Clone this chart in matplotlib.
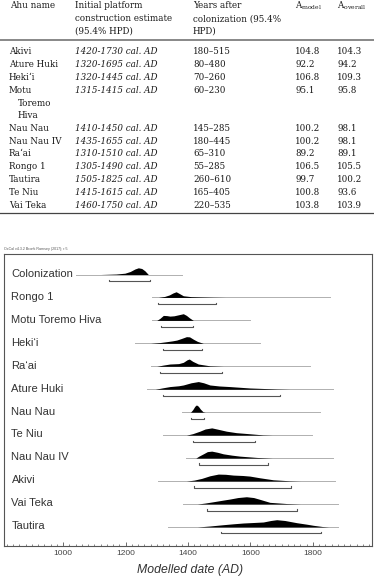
import numpy as np
import matplotlib
matplotlib.use('Agg')
import matplotlib.pyplot as plt

# ---- table data ----
ahu_names = [['Akivi'], ['Ature Huki'], ['Heki\u2018i'], ['Motu', 'Toremo', 'Hiva'],
             ['Nau Nau'], ['Nau Nau IV'], ['Ra\u2018ai'], ['Rongo 1'], ['Tautira'],
             ['Te Niu'], ['Vai Teka']]
hpd_start = [1420, 1320, 1320, 1315, 1410, 1435, 1310, 1305, 1505, 1415, 1460]
hpd_end = [1730, 1695, 1445, 1415, 1450, 1655, 1510, 1490, 1825, 1615, 1750]
years_after = ['180\u2013515', '80\u2013480', '70\u2013260', '60\u2013230', '145\u2013285',
               '180\u2013445', '65\u2013310', '55\u2013285', '260\u2013610', '165\u2013405',
               '220\u2013535']
a_model = [104.8, 92.2, 106.8, 95.1, 100.2, 100.2, 89.2, 106.5, 99.7, 100.8, 103.8]
a_overall = [104.3, 94.2, 109.3, 95.8, 98.1, 98.1, 89.1, 105.5, 100.2, 93.6, 103.9]

# ---- OxCal plot data (top to bottom) ----
plot_labels = ['Colonization', 'Rongo 1', 'Motu Toremo Hiva', 'Heki\u2018i', 'Ra\u2018ai',
               'Ature Huki', 'Nau Nau', 'Te Niu', 'Nau Nau IV', 'Akivi', 'Vai Teka', 'Tautira']
range_start = [1042, 1284, 1284, 1230, 1282, 1268, 1380, 1321, 1393, 1305, 1383, 1337]
range_end = [1381, 1854, 1598, 1630, 1790, 1865, 1822, 1796, 1865, 1870, 1881, 1881]
colon_hpd = (1148, 1278)

dens_years = [
    [1120, 1170, 1198, 1215, 1230, 1241, 1252, 1262, 1273],
    [1305, 1325, 1340, 1352, 1362, 1372, 1385, 1410, 1440, 1480, 1520],
    [1300, 1310, 1321, 1332, 1342, 1355, 1368, 1385, 1395, 1405, 1417],
    [1280, 1310, 1332, 1350, 1364, 1380, 1395, 1405, 1418, 1430, 1449],
    [1300, 1320, 1342, 1370, 1385, 1397, 1404, 1415, 1433, 1470, 1513],
    [1295, 1320, 1342, 1370, 1385, 1410, 1433, 1450, 1470, 1500, 1534, 1598, 1684, 1726],
    [1408, 1415, 1422, 1427, 1433, 1440, 1448, 1455],
    [1395, 1415, 1438, 1455, 1476, 1495, 1523, 1555, 1587, 1640, 1670],
    [1425, 1435, 1449, 1462, 1476, 1495, 1513, 1540, 1566, 1620, 1670],
    [1395, 1420, 1444, 1470, 1497, 1520, 1545, 1575, 1598, 1630, 1673, 1726, 1760],
    [1430, 1455, 1481, 1510, 1534, 1560, 1587, 1610, 1630, 1662, 1716, 1760],
    [1430, 1470, 1513, 1545, 1577, 1610, 1641, 1665, 1684, 1710, 1748, 1780, 1801, 1830, 1850],
]
dens_height = [
    [0, 0.5, 1.3, 3.0, 5.5, 6.7, 6.0, 3.7, 0],
    [0, 1.0, 2.5, 4.5, 5.7, 4.0, 1.7, 0.8, 0.5, 0.2, 0],
    [0, 2.0, 5.0, 4.8, 4.3, 4.6, 5.5, 6.7, 5.0, 2.5, 0],
    [0, 0.8, 1.7, 2.5, 3.3, 5.0, 6.7, 6.5, 4.0, 2.0, 0],
    [0, 1.2, 2.3, 2.7, 4.0, 6.5, 7.3, 5.0, 2.3, 0.5, 0],
    [0, 1.5, 2.7, 3.5, 4.3, 6.5, 7.7, 6.5, 4.3, 3.3, 2.7, 1.3, 0.3, 0],
    [0, 2.5, 6.0, 7.3, 6.0, 3.0, 0.5, 0],
    [0, 1.5, 4.0, 6.2, 7.3, 6.0, 4.0, 2.5, 1.7, 0.3, 0],
    [0, 2.0, 4.3, 6.5, 7.0, 5.8, 4.3, 3.0, 2.0, 0.7, 0],
    [0, 1.0, 2.7, 5.3, 7.0, 6.8, 6.0, 5.6, 5.0, 3.3, 1.3, 0.3, 0],
    [0, 1.0, 2.3, 3.8, 5.0, 6.5, 7.3, 6.5, 4.7, 1.7, 0.5, 0],
    [0, 1.0, 2.3, 3.2, 4.0, 4.5, 5.0, 6.5, 7.3, 6.5, 4.3, 2.8, 1.7, 0.5, 0],
]

W, H = 374, 581
fig = plt.figure(figsize=(W / 100, H / 100), dpi=100)


def fy(y):
    return 1 - y / H


def fx(x):
    return x / W


serif = 'DejaVu Serif'
tcol = '#1a1a1a'
tfs = 6.3
plt.rcParams['mathtext.fontset'] = 'dejavuserif'

# header
hdr = [(10, ['Ahu name']),
       (75, ['Initial platform', 'construction estimate', '(95.4% HPD)']),
       (193, ['Years after', 'colonization (95.4%', 'HPD)'])]
for x, lines in hdr:
    for i, s in enumerate(lines):
        fig.text(fx(x), fy(6 + 12.6 * i), s, family=serif, fontsize=tfs, color=tcol, va='center')
fig.text(fx(295), fy(6), r'A$_{\mathregular{model}}$', family=serif, fontsize=tfs, color=tcol, va='center')
fig.text(fx(337), fy(6), r'A$_{\mathregular{overall}}$', family=serif, fontsize=tfs, color=tcol, va='center')

fig.add_artist(plt.Line2D([0, 1], [fy(40), fy(40)], color='#888888', lw=1.4))
fig.add_artist(plt.Line2D([0, 1], [fy(213), fy(213)], color='#444444', lw=0.9))

line_k = 0
for i, name in enumerate(ahu_names):
    y = 52 + 12.75 * line_k
    fig.text(fx(9), fy(y), name[0], family=serif, fontsize=tfs, color=tcol, va='center')
    for j, extra in enumerate(name[1:]):
        fig.text(fx(18), fy(y + 12.75 * (j + 1)), extra, family=serif, fontsize=tfs, color=tcol, va='center')
    fig.text(fx(75), fy(y), f'{hpd_start[i]}-{hpd_end[i]} cal. AD', family=serif, style='italic',
             fontsize=tfs, color=tcol, va='center')
    fig.text(fx(193), fy(y), years_after[i], family=serif, fontsize=tfs, color=tcol, va='center')
    fig.text(fx(295), fy(y), f'{a_model[i]:.1f}', family=serif, fontsize=tfs, color=tcol, va='center')
    fig.text(fx(337), fy(y), f'{a_overall[i]:.1f}', family=serif, fontsize=tfs, color=tcol, va='center')
    line_k += len(name)

# ---- OxCal plot ----
sans = 'Liberation Sans'
ax = fig.add_axes([fx(4), fy(546), fx(368), (546 - 254) / H])
ax.set_xlim(811, 1989)
row_px = 22.95
ax.set_ylim(11 + 19 / row_px, -20.5 / row_px)
hscale = 1 / row_px  # px -> row units

# map table rows to plot rows for HPD brackets
tbl_key = [' '.join(n) for n in ahu_names]
for r, lab in enumerate(plot_labels):
    ax.text(835, r - 0.03, lab, family=sans, fontsize=8, color='#333333', va='center', ha='left')
    ax.plot([range_start[r], range_end[r]], [r, r], color='#b0b0b0', lw=0.7, zorder=1)
    yrs = np.array(dens_years[r])
    hs = np.array(dens_height[r]) * hscale
    ax.fill_between(yrs, r, r - hs, color='black', lw=0, zorder=2)
    if lab == 'Colonization':
        a, b = colon_hpd
    else:
        k = tbl_key.index(lab)
        a, b = hpd_start[k], hpd_end[k]
    yb = r + 6.5 * hscale
    ax.plot([a, a, b, b], [yb - 0.05, yb, yb, yb - 0.05], color='#555555', lw=0.8, zorder=2)

for s in ax.spines.values():
    s.set_color('#555555')
    s.set_linewidth(0.8)
ax.set_yticks([])
ax.set_xticks(np.arange(1000, 1801, 200))
ax.set_xticks(np.arange(820, 1990, 20), minor=True)
ax.tick_params(axis='x', which='both', direction='in', colors='#555555', labelcolor='#444444',
               labelsize=6, pad=3)
ax.tick_params(axis='x', which='major', length=3, width=0.6)
ax.tick_params(axis='x', which='minor', length=1.8, width=0.5)
for t in ax.get_xticklabels():
    t.set_family(sans)
fig.text(fx(190), fy(570), 'Modelled date (AD)', family=sans, style='italic', fontsize=8.8,
         color='#333333', ha='center', va='center')
fig.text(fx(4), fy(251), 'OxCal v4.3.2 Bronk Ramsey (2017); r:5', family=sans, fontsize=2.6,
         color='#555555', ha='left', va='bottom')

fig.savefig('out.png', dpi=100)
